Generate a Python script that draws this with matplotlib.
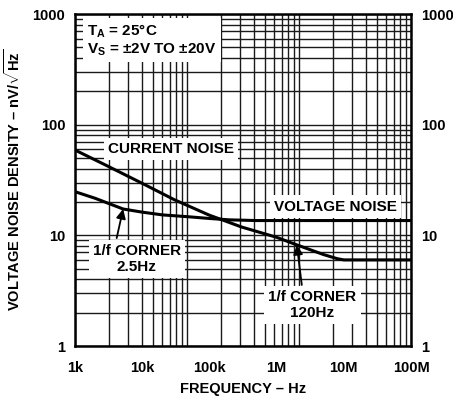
import matplotlib
matplotlib.use('Agg')
import matplotlib.pyplot as plt
from matplotlib.ticker import FixedLocator, FixedFormatter, NullLocator

plt.rcParams['font.family'] = ['Liberation Sans', 'DejaVu Sans']
plt.rcParams['font.weight'] = 'bold'
plt.rcParams['mathtext.fontset'] = 'custom'
plt.rcParams['mathtext.rm'] = 'Liberation Sans:bold'
plt.rcParams['mathtext.it'] = 'Liberation Sans:bold'
plt.rcParams['mathtext.bf'] = 'Liberation Sans:bold'

# steep curve (falls to ~6 nV)
curr_freq = [1e3, 3e3, 1e4, 3e4, 1e5, 1.5e5, 3e5, 1e6, 2e6, 3e6, 5e6, 8e6, 1e7, 1e8]
curr_noise = [59, 42.5, 29.5, 21, 15.2, 13.9, 11.9, 9.6, 8.2, 7.5, 6.7, 6.15, 6.0, 6.0]

# flat curve (~13.6 nV)
volt_freq = [1e3, 2e3, 5.2e3, 1e4, 2e4, 5e4, 1e5, 2e5, 5e5, 1e8]
volt_noise = [24.8, 21.6, 17.3, 16.2, 15.3, 14.7, 14.2, 13.8, 13.6, 13.6]

xticks = [1e3, 1e4, 1e5, 1e6, 1e7, 1e8]
xticklabels = ['1k', '10k', '100k', '1M', '10M', '100M']
yticks = [1, 10, 100, 1000]
yticklabels = ['1', '10', '100', '1000']

fig = plt.figure(figsize=(4.53, 4.0), dpi=100)
pos = [75 / 453, 1 - 346 / 400, 336 / 453, 332 / 400]

# background log paper (3 x 3 decades)
gax = fig.add_axes(pos)
gax.set_xscale('log')
gax.set_yscale('log')
gax.set_xlim(1, 1000)
gax.set_ylim(1, 1000)
gax.grid(which='both', color='#1a1a1a', lw=1.0)
gax.tick_params(which='both', length=0, labelbottom=False, labelleft=False)
for s in gax.spines.values():
    s.set_visible(False)

ax = fig.add_axes(pos)
ax.set_facecolor('none')
ax.set_xscale('log')
ax.set_yscale('log')
ax.set_xlim(1e3, 1e8)
ax.set_ylim(1, 1000)

ax.plot(curr_freq, curr_noise, color='k', lw=2.2, zorder=5)
ax.plot(volt_freq, volt_noise, color='k', lw=2.2, zorder=5)

ax.xaxis.set_major_locator(FixedLocator(xticks))
ax.xaxis.set_major_formatter(FixedFormatter(xticklabels))
ax.yaxis.set_major_locator(FixedLocator(yticks))
ax.yaxis.set_major_formatter(FixedFormatter(yticklabels))
ax.xaxis.set_minor_locator(NullLocator())
ax.yaxis.set_minor_locator(NullLocator())
ax.tick_params(which='both', length=0, labelsize=10.5, labelright=True)
ax.tick_params(axis='x', pad=10.5)
ax.tick_params(axis='y', pad=7)
for s in ax.spines.values():
    s.set_linewidth(1.8)

ax.set_xlabel('FREQUENCY – Hz', fontsize=10.5, fontweight='bold', labelpad=5)
ax.set_ylabel(r'VOLTAGE NOISE DENSITY – nV/$\sqrt{\mathrm{Hz}}$', fontsize=10.5,
              fontweight='bold', labelpad=7)

box = dict(facecolor='white', edgecolor='none', pad=3)
ax.text(0.036, 0.975, 'T$_\\mathrm{A}$ = 25°C\nV$_\\mathrm{S}$ = ±2V TO ±20V', transform=ax.transAxes,
        fontsize=11, ha='left', va='top', linespacing=1.15, bbox=box, zorder=6)
ax.text(0.285, 0.593, 'CURRENT NOISE', transform=ax.transAxes, fontsize=11,
        ha='center', va='center', bbox=box, zorder=6)
ax.text(0.774, 0.420, 'VOLTAGE NOISE', transform=ax.transAxes, fontsize=11,
        ha='center', va='center', bbox=box, zorder=6)
ax.text(0.184, 0.262, '1/f CORNER\n2.5Hz', transform=ax.transAxes, fontsize=11,
        ha='center', va='center', linespacing=1.15, bbox=box, zorder=6)
ax.text(0.707, 0.123, '1/f CORNER\n120Hz', transform=ax.transAxes, fontsize=11,
        ha='center', va='center', linespacing=1.15, bbox=box, zorder=6)

arrow = dict(arrowstyle='-|>', color='k', lw=1.3, mutation_scale=14, shrinkA=0, shrinkB=0)
ax.annotate('', xy=(volt_freq[2], volt_noise[2]), xytext=(0.124, 0.325),
            textcoords='axes fraction', arrowprops=arrow, zorder=7)
ax.annotate('', xy=(curr_freq[8], curr_noise[8]), xytext=(0.675, 0.184),
            textcoords='axes fraction', arrowprops=arrow, zorder=7)

fig.savefig('out.png', dpi=100)
